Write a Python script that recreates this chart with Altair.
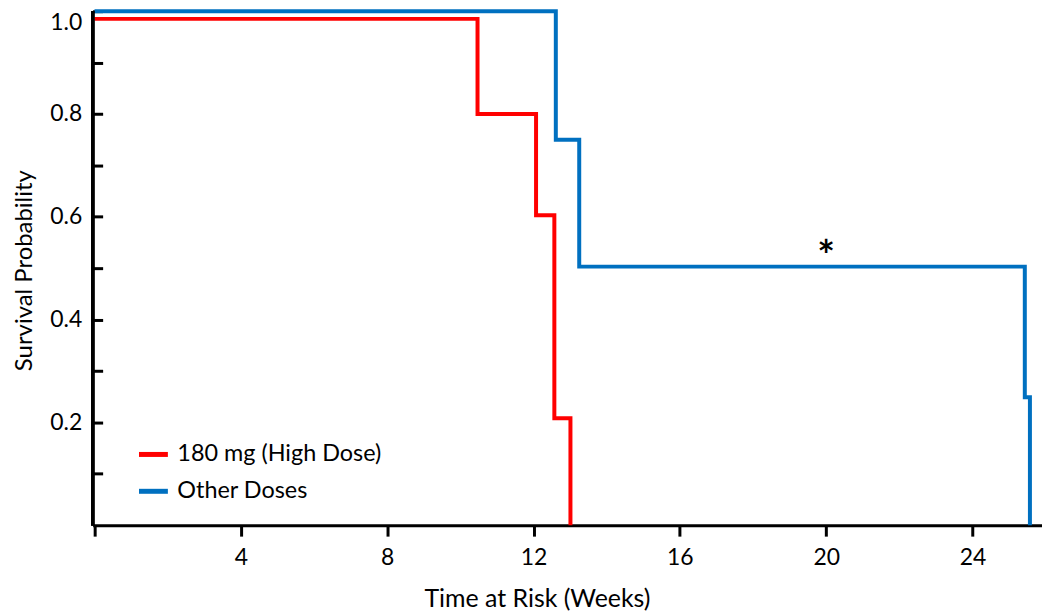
import altair as alt
import pandas as pd

# ---- data ----
red_name = "180 mg (High Dose)"
blue_name = "Other Doses"
red_weeks = [0, 10.47, 12.07, 12.57, 13.01]
red_surv = [0.985, 0.80, 0.603, 0.208, 0.0]
blue_weeks = [0, 12.61, 13.25, 25.43, 25.57]
blue_surv = [1.0, 0.75, 0.503, 0.249, 0.0]
x_ticks = [0, 4, 8, 12, 16, 20, 24]
y_ticks = [0.1, 0.2, 0.3, 0.4, 0.5, 0.6, 0.7, 0.8, 0.9, 1.0]
y_labels = ["0.2", "0.4", "0.6", "0.8", "1.0"]
star_x = [20]
star_y = [0.52]
star_text = ["*"]

FONT = "Lato"
W, H = 953, 516

rows = []
for i, (w, s) in enumerate(zip(red_weeks, red_surv)):
    rows.append({"group": red_name, "week": w, "surv": s, "order": i})
for i, (w, s) in enumerate(zip(blue_weeks, blue_surv)):
    rows.append({"group": blue_name, "week": w, "surv": s, "order": i})
df = pd.DataFrame(rows)
star_df = pd.DataFrame({"week": star_x, "surv": star_y, "label": star_text})

xscale = alt.Scale(domain=[-0.05, 25.9], nice=False, zero=False)
yscale = alt.Scale(domain=[0, 1], nice=False)

ylab_expr = "indexof(" + str(y_labels) + ", format(datum.value, '.1f')) >= 0 ? format(datum.value, '.1f') : ''"

lines = alt.Chart(df).mark_line(interpolate="step-after", strokeWidth=4).encode(
    x=alt.X("week:Q", scale=xscale,
            axis=alt.Axis(title="Time at Risk (Weeks)", values=x_ticks,
                          labelExpr="datum.value == 0 ? '' : datum.label",
                          grid=False, domainColor="black", domainWidth=3,
                          tickColor="black", tickWidth=3, tickSize=11,
                          labelFont=FONT, labelFontSize=23, labelColor="black",
                          labelPadding=10,
                          titleFont=FONT, titleFontSize=25, titleFontWeight="normal",
                          titleColor="black", titleX=446, titleY=82,
                          titleBaseline="alphabetic")),
    y=alt.Y("surv:Q", scale=yscale,
            axis=alt.Axis(title="Survival Probability", values=y_ticks,
                          labelExpr=ylab_expr, offset=-10, domain=False,
                          grid=False, tickColor="black", tickWidth=3, tickSize=10,
                          labelFont=FONT, labelFontSize=23, labelColor="black",
                          labelPadding=11, labelFlush=True,
                          titleFont=FONT, titleFontSize=24, titleFontWeight="normal",
                          titleColor="black", titleX=-90, titleY=260,
                          titleBaseline="top")),
    color=alt.Color("group:N",
                    scale=alt.Scale(domain=[red_name, blue_name],
                                    range=["#FF0000", "#0070C0"]),
                    legend=alt.Legend(title=None, orient="none", legendX=44,
                                      legendY=428, direction="vertical",
                                      symbolType="stroke", symbolSize=841,
                                      symbolStrokeWidth=5, labelFont=FONT,
                                      labelFontSize=23.5, labelColor="black",
                                      labelOffset=7, labelLimit=0,
                                      rowPadding=8, padding=0)),
    order="order:Q",
)

yline = alt.Chart(df).mark_rule(color="black", strokeWidth=3).encode(
    x=alt.value(0), y=alt.value(0), y2=alt.value(H)
)

star = alt.Chart(star_df).mark_text(font=FONT, fontSize=42, fontWeight="bold",
                                    baseline="middle", color="black").encode(
    x=alt.X("week:Q", scale=xscale),
    y=alt.Y("surv:Q", scale=yscale),
    text="label:N",
)

chart = alt.layer(lines, yline, star).properties(
    width=W, height=H,
    autosize=alt.AutoSizeParams(type="none"),
    padding={"left": 85, "top": 2, "right": 0, "bottom": 87},
).configure_view(stroke=None)

chart.save("out.html", embed_options={"renderer": "svg", "actions": False})
